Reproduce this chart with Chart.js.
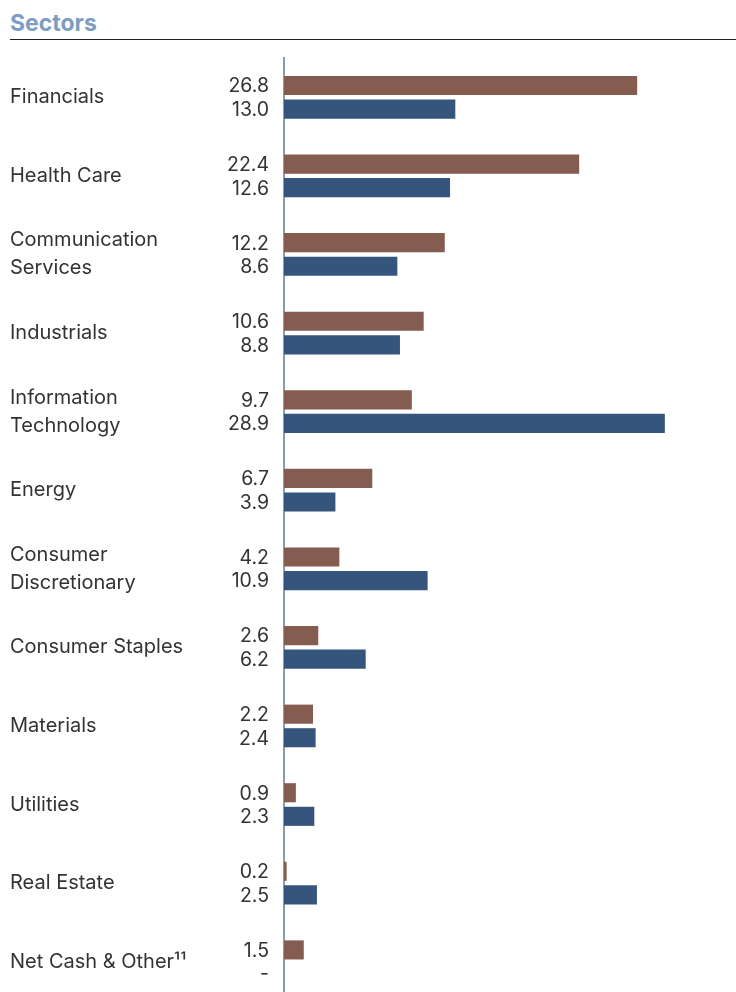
<!DOCTYPE html>
<html>
<head>
<meta charset="utf-8">
<script src="https://cdn.jsdelivr.net/npm/chart.js@4/dist/chart.umd.min.js"></script>
<style>
  body { margin: 0; background: #fff; overflow: hidden; }
  #wrap { position: relative; width: 736px; height: 992px; overflow: hidden; }
  #title {
    position: absolute; left: 10px; top: 9px;
    font-family: Inter, "Noto Sans", sans-serif; font-weight: 700; font-size: 23px;
    color: #7d9dc4;
  }
  #rule { position: absolute; left: 10px; right: 0; top: 39px; height: 1px; background: #222; }
  canvas { position: absolute; left: 0; top: 0; }
</style>
</head>
<body>
<div id="wrap">
  <div id="title">Sectors</div>
  <div id="rule"></div>
  <canvas id="sectorsChart" width="736" height="1018"></canvas>
</div>
<script>
const sectors = [
    'Financials',
    'Health Care',
    ['Communication', 'Services'],
    'Industrials',
    ['Information', 'Technology'],
    'Energy',
    ['Consumer', 'Discretionary'],
    'Consumer Staples',
    'Materials',
    'Utilities',
    'Real Estate',
    'Net Cash & Other\u00B9\u00B9'
];
const fundWeights = [26.8, 22.4, 12.2, 10.6, 9.7, 6.7, 4.2, 2.6, 2.2, 0.9, 0.2, 1.5];
const indexWeights = [13.0, 12.6, 8.6, 8.8, 28.9, 3.9, 10.9, 6.2, 2.4, 2.3, 2.5, null];

const brown = '#845d50';
const navy = '#36557d';
const textFont = 'Inter, "Noto Sans", sans-serif';

// numbers to the left of the axis, one per bar
const valueLabels = {
    id: 'valueLabels',
    afterDatasetsDraw(chart) {
        const ctx = chart.ctx;
        ctx.save();
        ctx.font = '19.5px ' + textFont;
        ctx.fillStyle = '#333';
        ctx.textAlign = 'right';
        ctx.textBaseline = 'middle';
        chart.data.datasets.forEach((ds, i) => {
            chart.getDatasetMeta(i).data.forEach((bar, j) => {
                const v = ds.data[j];
                const txt = v === null ? '-' : v.toFixed(1);
                ctx.fillText(txt, chart.chartArea.left - 15, bar.y + 1);
            });
        });
        ctx.restore();
    }
};

const config = {
    type: 'bar',
    data: {
        labels: sectors,
        datasets: [{
            data: fundWeights,
            backgroundColor: brown,
            barPercentage: 0.81,
            categoryPercentage: 0.6
        },
        {
            data: indexWeights,
            backgroundColor: navy,
            barPercentage: 0.81,
            categoryPercentage: 0.6
        }]
    },
    options: {
        indexAxis: 'y',
        responsive: false,
        animation: false,
        layout: { padding: { top: 58, left: 10, right: 0, bottom: 0 } },
        plugins: {
            legend: { display: false },
            tooltip: { enabled: false }
        },
        scales: {
            x: {
                display: false,
                min: 0,
                max: 34.3
            },
            y: {
                grid: { display: false },
                border: { display: true, color: '#8c9bab', width: 2 },
                ticks: {
                    crossAlign: 'far',
                    color: '#333',
                    font: { family: textFont, size: 20, lineHeight: 1.4 }
                },
                afterFit(scale) { scale.width = 274; }
            }
        }
    },
    plugins: [valueLabels]
};

const chart = new Chart(document.getElementById('sectorsChart'), config);
</script>
</body>
</html>
